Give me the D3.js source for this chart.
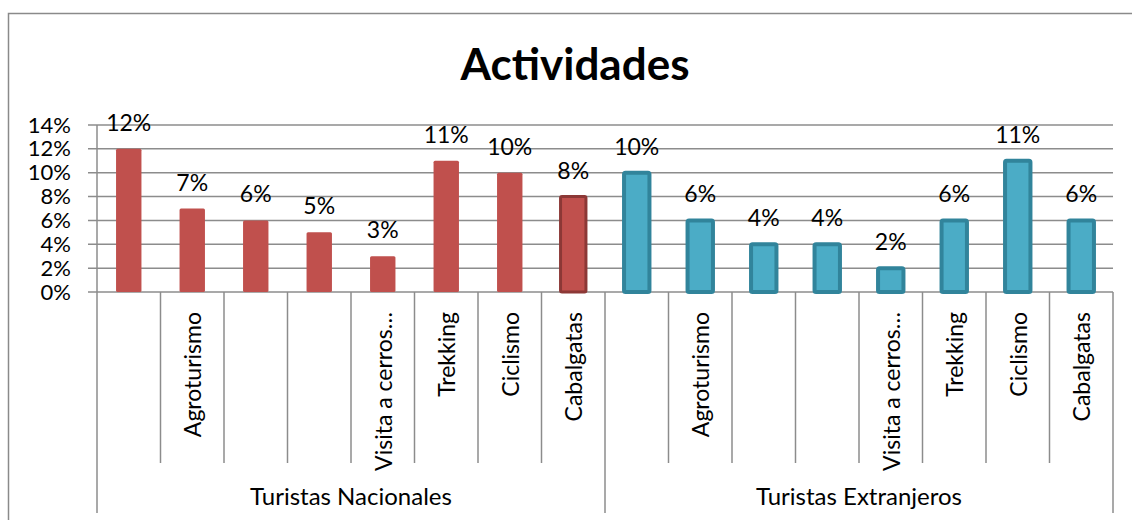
<!DOCTYPE html>
<html>
<head>
<meta charset="utf-8">
<script src="https://cdn.jsdelivr.net/npm/d3@7"></script>
<style>
  html, body { margin: 0; padding: 0; background: #fff; }
  svg { display: block; font-family: Lato, "Open Sans", sans-serif; }
</style>
</head>
<body>
<div id="root"></div>
<script>
// ——— données
const groups = ["Turistas Nacionales", "Turistas Extranjeros"];
const categories = ["", "Agroturismo", "", "", "Visita a cerros…", "Trekking", "Ciclismo", "Cabalgatas"];
const nacionales = [12, 7, 6, 5, 3, 11, 10, 8];
const extranjeros = [10, 6, 4, 4, 2, 6, 11, 6];
const yTicks = [0, 2, 4, 6, 8, 10, 12, 14];

const width = 1132, height = 520;
const margin = { left: 97, right: 19, top: 125, bottom: 228 };
const innerW = width - margin.left - margin.right;
const innerH = height - margin.top - margin.bottom;

const items = [];
groups.forEach((grp, gi) => {
  const vals = gi === 0 ? nacionales : extranjeros;
  categories.forEach((c, ci) => items.push({ key: gi + "-" + ci, group: gi, label: c, value: vals[ci], last: ci === categories.length - 1 }));
});

const svg = d3.select("#root").append("svg").attr("width", width).attr("height", height);

// cadre du graphique
svg.append("rect")
  .attr("x", 8.5).attr("y", 13.5).attr("width", 1140).attr("height", 600)
  .attr("fill", "none").attr("stroke", "#8a8a8a").attr("stroke-width", 1.5);

svg.append("text")
  .attr("x", 575).attr("y", 80).attr("text-anchor", "middle")
  .attr("font-size", 44).attr("font-weight", "bold").attr("fill", "#000")
  .text("Actividades");

const g = svg.append("g").attr("transform", `translate(${margin.left},${margin.top})`);

const x = d3.scaleBand().domain(items.map(d => d.key)).range([0, innerW]).paddingInner(0).paddingOuter(0);
const y = d3.scaleLinear().domain([0, 14]).range([innerH, 0]);

// grille
g.selectAll(".grid").data(yTicks).enter().append("line")
  .attr("x1", -9).attr("x2", innerW)
  .attr("y1", d => y(d)).attr("y2", d => y(d))
  .attr("stroke", "#8c8c8c").attr("stroke-width", 1.5);

// axe Y
const yAxis = g.append("g").call(d3.axisLeft(y).tickValues(yTicks).tickFormat(d => d + "%").tickSize(0).tickPadding(26));
yAxis.select(".domain").remove();
yAxis.selectAll("text").attr("font-size", 22).attr("fill", "#000").attr("font-family", "Lato, sans-serif");

g.append("line").attr("x1", 0).attr("x2", 0).attr("y1", 0).attr("y2", innerH)
  .attr("stroke", "#8c8c8c").attr("stroke-width", 1.5);

// séparateurs de catégories
const bw = x.bandwidth();
g.selectAll(".sep").data(items).enter().append("line")
  .attr("x1", d => x(d.key) + bw).attr("x2", d => x(d.key) + bw)
  .attr("y1", innerH)
  .attr("y2", d => d.last ? innerH + 221 : innerH + 171)
  .attr("stroke", "#8c8c8c").attr("stroke-width", 1.5);
g.append("line").attr("x1", 0).attr("x2", 0).attr("y1", innerH).attr("y2", innerH + 221)
  .attr("stroke", "#8c8c8c").attr("stroke-width", 1.5);

// barres
const barW = bw * 0.4;
g.selectAll(".bar").data(items).enter().append("rect")
  .attr("x", d => x(d.key) + (bw - barW) / 2)
  .attr("y", d => y(d.value))
  .attr("width", barW)
  .attr("height", d => innerH - y(d.value))
  .attr("fill", d => d.group === 0 ? "#c0504d" : "#4bacc6")
  .attr("stroke", d => d.group === 0 ? (d.last ? "#8c3836" : "none") : "#31849b")
  .attr("stroke-width", d => d.group === 0 ? 3 : 4)
  .attr("rx", 1.5);

// étiquettes de valeur
g.selectAll(".lbl").data(items).enter().append("text")
  .attr("x", d => x(d.key) + bw / 2)
  .attr("y", d => y(d.value) - 18)
  .attr("text-anchor", "middle").attr("font-size", 23).attr("fill", "#000")
  .text(d => d.value + "%");

// libellés de catégories (verticaux)
g.selectAll(".cat").data(items).enter().append("text")
  .attr("transform", d => `translate(${x(d.key) + bw / 2 + 9},${innerH + 20}) rotate(-90)`)
  .attr("text-anchor", "end").attr("font-size", 23).attr("fill", "#000")
  .text(d => d.label);

// libellés de groupes
g.selectAll(".grp").data(groups).enter().append("text")
  .attr("x", (d, i) => (i + 0.5) * innerW / 2)
  .attr("y", innerH + 213)
  .attr("text-anchor", "middle").attr("font-size", 24).attr("fill", "#000")
  .text(d => d);
</script>
</body>
</html>
